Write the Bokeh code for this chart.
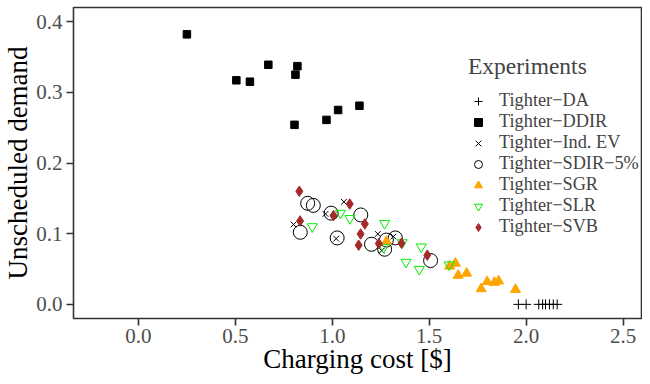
from bokeh.plotting import figure
from bokeh.models import Range1d, FixedTicker, PrintfTickFormatter, Legend, LegendItem
from bokeh.embed import file_html
from bokeh.resources import INLINE

# ---- data ----
da_x = [1.96, 2.00, 2.065, 2.085, 2.10, 2.12, 2.14, 2.16]
da_y = [0.0, 0.0, 0.0, 0.0, 0.0, 0.0, 0.0, 0.0]

ddir_x = [0.25, 0.505, 0.575, 0.67, 0.81, 0.82, 0.805, 0.97, 1.03, 1.14]
ddir_y = [0.382, 0.317, 0.315, 0.339, 0.325, 0.337, 0.254, 0.261, 0.275, 0.281]

indev_x = [0.80, 0.965, 1.02, 1.06, 1.235, 1.255, 1.315]
indev_y = [0.113, 0.128, 0.093, 0.145, 0.0996, 0.076, 0.096]

sdir_x = [0.835, 0.873, 0.902, 0.994, 1.025, 1.147, 1.202, 1.27, 1.279, 1.325, 1.507]
sdir_y = [0.102, 0.143, 0.140, 0.129, 0.094, 0.1265, 0.085, 0.078, 0.091, 0.094, 0.062]

sgr_x = [1.28, 1.605, 1.635, 1.649, 1.693, 1.768, 1.799, 1.836, 1.858, 1.945]
sgr_y = [0.089, 0.054, 0.058, 0.041, 0.044, 0.022, 0.032, 0.031, 0.033, 0.021]

slr_x = [0.897, 1.042, 1.091, 1.265, 1.27, 1.361, 1.38, 1.449, 1.459, 1.603]
slr_y = [0.110, 0.129, 0.1215, 0.0805, 0.1146, 0.0873, 0.0596, 0.0496, 0.0814, 0.056]

svb_x = [0.83, 0.834, 1.006, 1.09, 1.136, 1.146, 1.168, 1.24, 1.357, 1.49]
svb_y = [0.160, 0.118, 0.1256, 0.142, 0.0837, 0.0996, 0.1138, 0.086, 0.0865, 0.0696]

series_labels = ["Tighter\u2212DA", "Tighter\u2212DDIR", "Tighter\u2212Ind. EV",
                 "Tighter\u2212SDIR\u22125%", "Tighter\u2212SGR", "Tighter\u2212SLR",
                 "Tighter\u2212SVB"]

x_ticks = [0.0, 0.5, 1.0, 1.5, 2.0, 2.5]
y_ticks = [0.0, 0.1, 0.2, 0.3, 0.4]

FONT = "Liberation Serif"
BROWN = "#A52A2A"

p = figure(width=642, height=376, output_backend="svg", toolbar_location=None,
           x_range=Range1d(-0.335, 2.595), y_range=Range1d(-0.02, 0.42),
           min_border_left=71, min_border_right=1, min_border_top=7,
           min_border_bottom=53)
p.xgrid.visible = False
p.ygrid.visible = False
p.outline_line_color = "#333333"
p.outline_line_width = 1.6
p.background_fill_color = "white"

for ax, ticks in ((p.xaxis, x_ticks), (p.yaxis, y_ticks)):
    ax.ticker = FixedTicker(ticks=ticks)
    ax.formatter = PrintfTickFormatter(format="%.1f")
    ax.axis_line_color = None
    ax.major_tick_line_color = "#333333"
    ax.major_tick_line_width = 1.6
    ax.major_tick_out = 7
    ax.major_tick_in = 0
    ax.minor_tick_line_color = None
    ax.major_label_text_font = FONT
    ax.major_label_text_font_size = "21px"
    ax.major_label_text_color = "#4D4D4D"
    ax.axis_label_text_font = FONT
    ax.axis_label_text_font_size = "27px"
    ax.axis_label_text_font_style = "normal"
    ax.axis_label_text_color = "black"

p.xaxis.major_label_standoff = 3
p.yaxis.major_label_standoff = 4
p.xaxis.axis_label_standoff = -2
p.yaxis.axis_label_standoff = 0
p.xaxis.axis_label = "Charging cost [$]"
p.yaxis.axis_label = "Unscheduled demand"

r_da = p.scatter(da_x, da_y, marker="cross", size=10, line_color="black", line_width=1)
r_ddir = p.scatter(ddir_x, ddir_y, marker="square", size=7.5, fill_color="black", line_color="black")
r_ind = p.scatter(indev_x, indev_y, marker="x", size=8, line_color="black", line_width=1)
r_sdir = p.scatter(sdir_x, sdir_y, marker="circle", size=14, fill_color=None, line_color="black", line_width=1)
r_sgr = p.scatter(sgr_x, sgr_y, marker="triangle", size=10, fill_color="#FFA500", line_color="#FFA500")
r_slr = p.scatter(slr_x, slr_y, marker="inverted_triangle", size=10, fill_color=None, line_color="#00EE00", line_width=1)
r_svb = p.scatter(svb_x, svb_y, marker="diamond", size=10.5,
                  fill_color=BROWN, line_color=BROWN, line_width=1)

renderers = [r_da, r_ddir, r_ind, r_sdir, r_sgr, r_slr, r_svb]
legend = Legend(items=[LegendItem(label=lab, renderers=[r]) for lab, r in zip(series_labels, renderers)],
                title="Experiments", location=(395, 81))
legend.title_text_font = FONT
legend.title_text_font_size = "23.5px"
legend.title_text_font_style = "normal"
legend.title_standoff = 10
legend.label_text_font = FONT
legend.label_text_font_size = "18.3px"
legend.border_line_color = None
legend.background_fill_alpha = 0
legend.padding = 0
legend.margin = 0
legend.spacing = 0
legend.glyph_width = 20
legend.glyph_height = 20
legend.label_height = 20
legend.label_standoff = 11
p.add_layout(legend)

open("out.html", "w").write(file_html(p, INLINE))
